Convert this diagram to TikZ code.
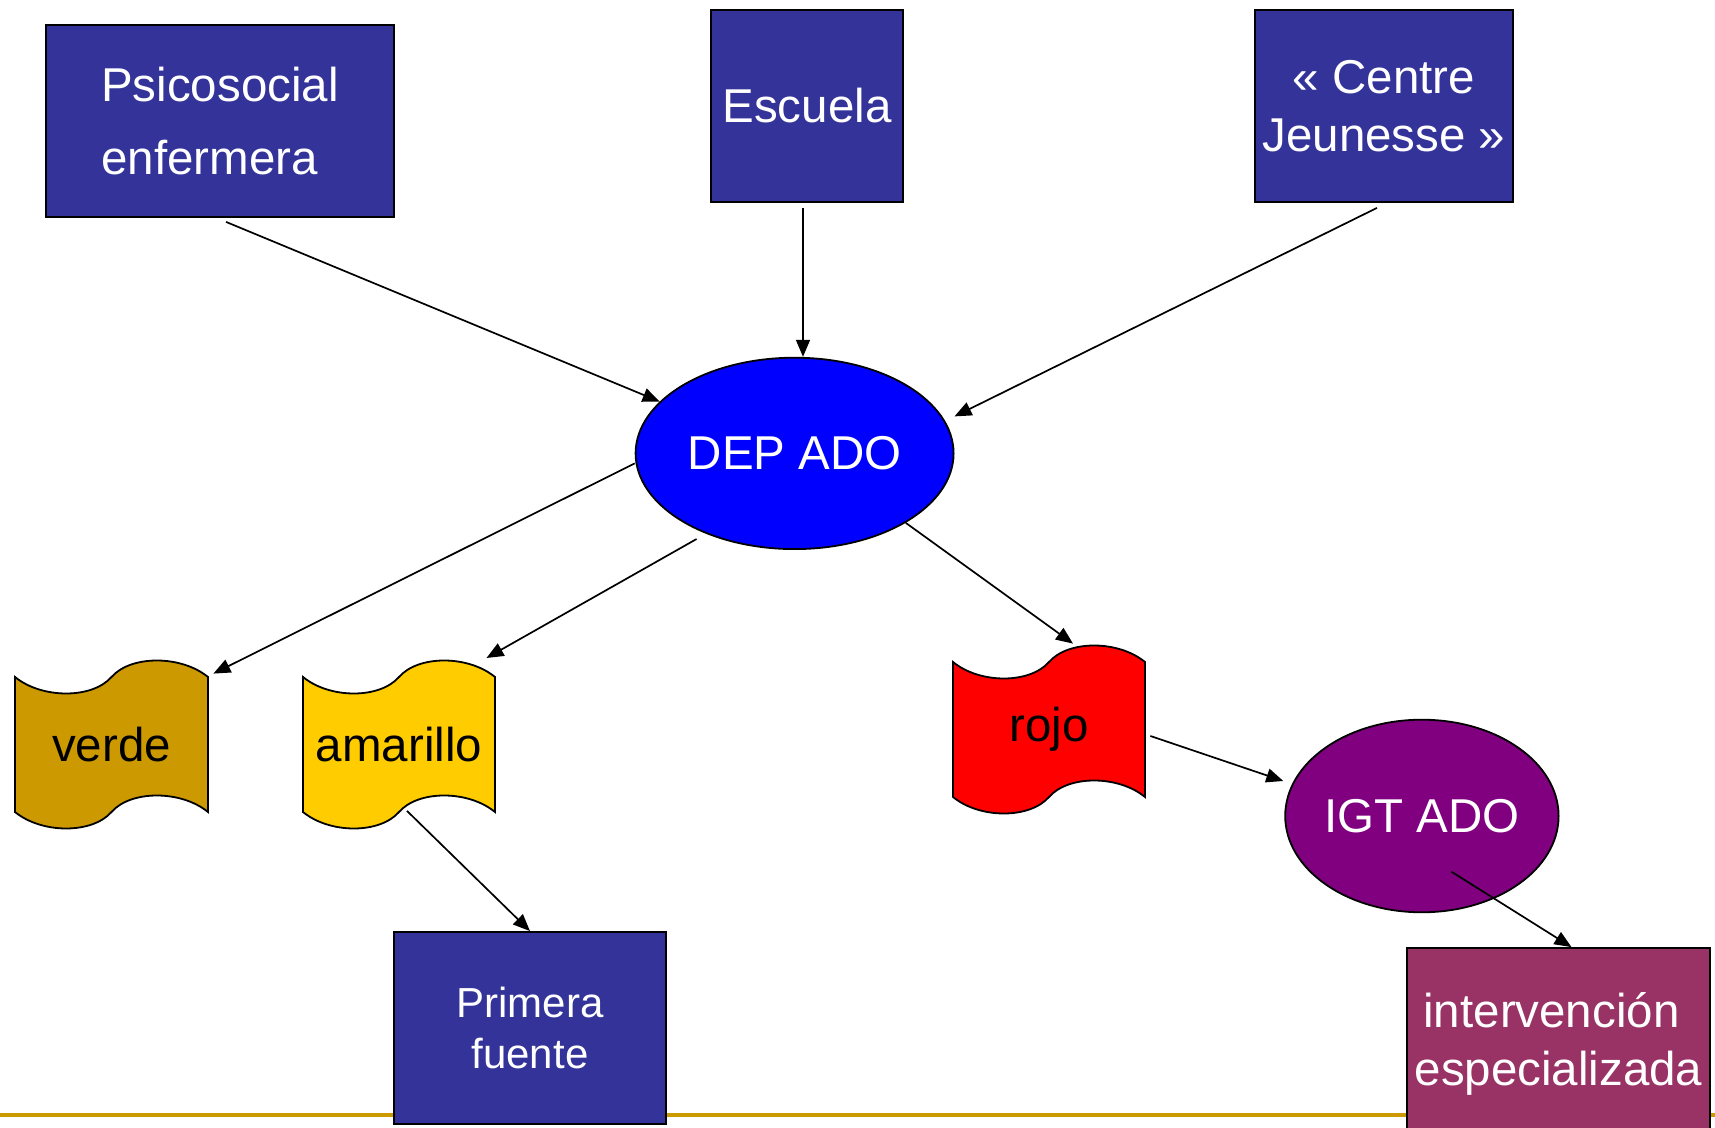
\documentclass[tikz,border=0pt]{standalone}
\usepackage{fontspec}
\setmainfont{Liberation Sans}
\usetikzlibrary{shapes.geometric,arrows.meta,calc}
\definecolor{boxblue}{HTML}{333399}
\definecolor{depblue}{HTML}{0000FF}
\definecolor{verdec}{HTML}{CC9900}
\definecolor{amarilloc}{HTML}{FFCC00}
\definecolor{rojoc}{HTML}{FF0000}
\definecolor{igtc}{HTML}{800080}
\definecolor{intervc}{HTML}{993366}
\definecolor{goldline}{HTML}{CC9900}
\newcommand\wavebanner[5]{%
  \filldraw[bannerline, fill=#5] (#1,#3)
    .. controls ({#1+0.14*(#2-#1)},{#3+22}) and ({#1+0.40*(#2-#1)},{#3+22}) .. ({(#1+#2)/2},#3)
    .. controls ({#1+0.60*(#2-#1)},{#3-22}) and ({#1+0.86*(#2-#1)},{#3-22}) .. (#2,#3)
    -- (#2,#4)
    .. controls ({#1+0.86*(#2-#1)},{#4-22}) and ({#1+0.60*(#2-#1)},{#4-22}) .. ({(#1+#2)/2},#4)
    .. controls ({#1+0.40*(#2-#1)},{#4+22}) and ({#1+0.14*(#2-#1)},{#4+22}) .. (#1,#4)
    -- cycle;}
\begin{document}
\begin{tikzpicture}[x=0.5pt,y=-0.5pt,
  bigtext/.style={font=\fontsize{23.75pt}{29pt}\selectfont},
  bluebox/.style={rectangle, draw=black, line width=0.9pt, fill=boxblue, text=white, inner sep=0pt, bigtext, align=center},
  ovalnode/.style={ellipse, draw=black, line width=0.9pt, inner sep=0pt, text=white, bigtext},
  bantext/.style={inner sep=0pt, text=black, bigtext, minimum width=96.5pt, minimum height=67.5pt},
  bannerline/.style={draw=black, line width=0.9pt},
  conn/.style={line width=0.85pt, -{Triangle[length=8.5pt,width=7pt]}}]
\useasboundingbox (0,0) rectangle (1715,1128);
\clip (0,0) rectangle (1715,1128);
\fill[white] (0,0) rectangle (1715,1128);
\draw[goldline, line width=2pt] (0,1115) -- (1715,1115);

\node[bluebox, minimum width=174pt, minimum height=96pt, align=left] (psico) at (220,121) {Psicosocial\\[7.5pt]enfermera};
\node[bluebox, minimum width=96pt, minimum height=96pt] (escuela) at (807,106) {Escuela};
\node[bluebox, minimum width=129pt, minimum height=96pt, text depth=0pt] (centre) at (1384,106) {« Centre\\Jeunesse »};
\node[ovalnode, minimum width=159pt, minimum height=95.7pt, fill=depblue] (dep) at (794.6,453.4) {\makebox[0pt]{DEP ADO}};

\wavebanner{15}{208}{677}{812}{verdec}
\node[bantext] (verde) at (111.5,744.5) {verde};
\wavebanner{303}{495}{677}{812}{amarilloc}
\node[bantext] (amarillo) at (399,744.5) {amarillo};
\wavebanner{953}{1145}{662}{797}{rojoc}
\node[bantext] (rojo) at (1049,729.5) {rojo};

\node[ovalnode, minimum width=136.7pt, minimum height=96.3pt, fill=igtc] (igt) at (1421.9,816) {\makebox[0pt]{IGT ADO}};
\node[bluebox, minimum width=136pt, minimum height=96pt, font=\fontsize{21pt}{25.7pt}\selectfont] (primera) at (530,1028) {Primera\\fuente};
\node[bluebox, fill=intervc, minimum width=151.5pt, minimum height=96pt] (interv) at (1558.5,1044) {\makebox[0pt]{\hspace*{-7pt}intervención}\\\makebox[0pt]{especializada}};

\draw[conn] ($(psico.south)+(6,4)$) -- (dep.159);
\draw[conn] ($(escuela.south)+(-4,5)$) coordinate (e1) -- (e1 |- dep.north);
\draw[conn] ($(centre.south)+(-7,5)$) -- ($(dep.east)+(0,-37)$);
\draw[conn] ($(dep.west)+(0,10)$) -- ($(verde.north east)+(5,-3)$);
\draw[conn] ($(dep.south)+(-98,-11)$) -- ($(amarillo.north east)+(-9.4,-18.6)$);
\draw[conn] (dep.-32) -- ($(rojo.north)+(24,-18)$);
\draw[conn] ($(amarillo.south)+(8,-1.5)$) -- (primera.north);
\draw[conn] ($(rojo.east)+(4.5,6.5)$) -- ($(igt.west)+(-1,-35)$);
\draw[conn] ($(igt.center)+(29.5,55.7)$) -- ($(interv.north)+(13,0)$);
\end{tikzpicture}
\end{document}
